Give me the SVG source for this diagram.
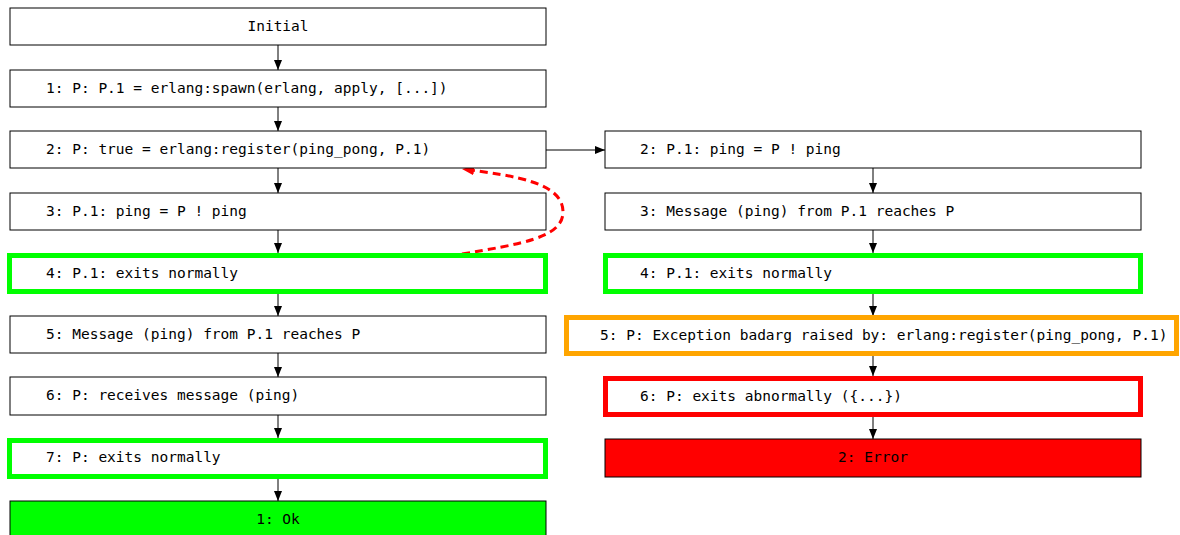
<svg xmlns="http://www.w3.org/2000/svg" width="1180" height="535" viewBox="0 0 1180 535">
<style>
.n{fill:#fff;stroke:#000;stroke-width:1}
.g{fill:#fff;stroke:#00ff00;stroke-width:5}
.o{fill:#fff;stroke:#ffa500;stroke-width:5}
.r{fill:#fff;stroke:#ff0000;stroke-width:5}
text{font-family:"DejaVu Sans Mono",monospace;font-size:14.5px;fill:#000}
.c{text-anchor:middle}
.e{stroke:#000;stroke-width:1;fill:none}
</style>
<defs>
<marker id="a" viewBox="0 0 10 10" refX="10" refY="5" markerWidth="10" markerHeight="10" markerUnits="userSpaceOnUse" orient="auto"><path d="M0,1 L10,5 L0,9 z" fill="#000"/></marker>
<marker id="ar" viewBox="0 0 10 10" refX="10" refY="5" markerWidth="12" markerHeight="12" markerUnits="userSpaceOnUse" orient="auto"><path d="M0,1 L10,5 L0,9 z" fill="#ff0000"/></marker>
</defs>
<g id="connectors">
<line class="e" x1="278" y1="45" x2="278" y2="70" marker-end="url(#a)"/>
<line class="e" x1="278" y1="107" x2="278" y2="131" marker-end="url(#a)"/>
<line class="e" x1="278" y1="168" x2="278" y2="193" marker-end="url(#a)"/>
<line class="e" x1="278" y1="230" x2="278" y2="253" marker-end="url(#a)"/>
<line class="e" x1="278" y1="293" x2="278" y2="316" marker-end="url(#a)"/>
<line class="e" x1="278" y1="353" x2="278" y2="377" marker-end="url(#a)"/>
<line class="e" x1="278" y1="415" x2="278" y2="438" marker-end="url(#a)"/>
<line class="e" x1="278" y1="478" x2="278" y2="501" marker-end="url(#a)"/>
<line class="e" x1="546" y1="150" x2="605" y2="150" marker-end="url(#a)"/>
<line class="e" x1="873" y1="168" x2="873" y2="193" marker-end="url(#a)"/>
<line class="e" x1="873" y1="230" x2="873" y2="253" marker-end="url(#a)"/>
<line class="e" x1="873" y1="293" x2="873" y2="316" marker-end="url(#a)"/>
<line class="e" x1="873" y1="354" x2="873" y2="376" marker-end="url(#a)"/>
<line class="e" x1="873" y1="416" x2="873" y2="439" marker-end="url(#a)"/>
<path d="M462,254 C520,244 563,238 563,212 C563,184 520,176 462,169" fill="none" stroke="#ff0000" stroke-width="3" stroke-dasharray="8,5" marker-end="url(#ar)"/>
</g>
<g id="n0"><rect class="n" x="10" y="8" width="536" height="37"/><text class="c" x="278" y="31">Initial</text></g>
<g id="n1"><rect class="n" x="10" y="70" width="536" height="37"/><text x="46" y="93">1: P: P.1 = erlang:spawn(erlang, apply, [...])</text></g>
<g id="n2"><rect class="n" x="10" y="131" width="536" height="37"/><text x="46" y="154">2: P: true = erlang:register(ping_pong, P.1)</text></g>
<g id="n3"><rect class="n" x="10" y="193" width="536" height="37"/><text x="46" y="216">3: P.1: ping = P ! ping</text></g>
<g id="n4"><rect class="g" x="9.5" y="255.5" width="536" height="36"/><text x="46" y="278">4: P.1: exits normally</text></g>
<g id="n5"><rect class="n" x="10" y="316" width="536" height="37"/><text x="46" y="339">5: Message (ping) from P.1 reaches P</text></g>
<g id="n6"><rect class="n" x="10" y="377" width="536" height="38"/><text x="46" y="400">6: P: receives message (ping)</text></g>
<g id="n7"><rect class="g" x="9.5" y="440.5" width="536" height="36"/><text x="46" y="462">7: P: exits normally</text></g>
<g id="n8"><rect x="10" y="501" width="536" height="40" fill="#00ff00" stroke="#000" stroke-width="1"/><text class="c" x="278" y="524">1: Ok</text></g>
<g id="m2"><rect class="n" x="605" y="131" width="536" height="37"/><text x="640" y="154">2: P.1: ping = P ! ping</text></g>
<g id="m3"><rect class="n" x="605" y="193" width="536" height="37"/><text x="640" y="216">3: Message (ping) from P.1 reaches P</text></g>
<g id="m4"><rect class="g" x="605.5" y="255.5" width="535" height="36"/><text x="640" y="278">4: P.1: exits normally</text></g>
<g id="m5"><rect class="o" x="566.5" y="317.5" width="610" height="36"/><text x="600" y="340">5: P: Exception badarg raised by: erlang:register(ping_pong, P.1)</text></g>
<g id="m6"><rect class="r" x="605.5" y="378.5" width="535" height="36"/><text x="640" y="401">6: P: exits abnormally ({...})</text></g>
<g id="m7"><rect x="605" y="439" width="536" height="38" fill="#ff0000" stroke="#000" stroke-width="1"/><text class="c" x="873" y="462">2: Error</text></g>
</svg>
